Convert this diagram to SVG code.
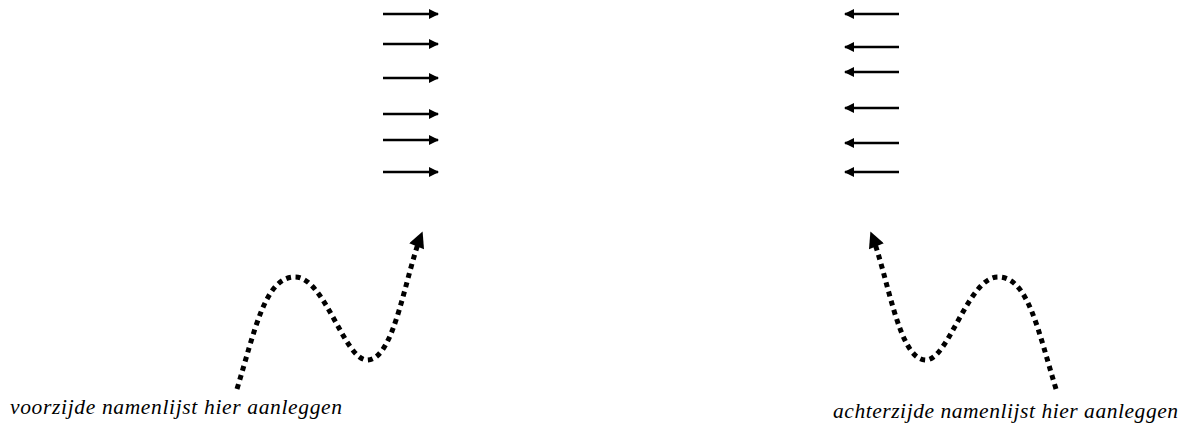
<svg xmlns="http://www.w3.org/2000/svg" width="1193" height="434" viewBox="0 0 1193 434">
<defs>
<marker id="ah" viewBox="0 0 10 10" refX="9" refY="5" markerWidth="4.4" markerHeight="4" orient="auto" markerUnits="strokeWidth">
<path d="M0,0 L10,5 L0,10 Z" fill="#000"/>
</marker>
<marker id="ahd" viewBox="0 0 10 10" refX="9" refY="5" markerWidth="3.4" markerHeight="3.2" orient="auto" markerUnits="strokeWidth">
<path d="M0,0 L10,5 L0,10 Z" fill="#000"/>
</marker>
</defs>
<style>
.a{stroke:#000;stroke-width:2.5;fill:none;marker-end:url(#ah)}
.d{stroke:#000;stroke-width:5;stroke-dasharray:5 4.5;fill:none;marker-end:url(#ahd)}
.t{font-family:"Liberation Serif",serif;font-style:italic;font-size:21.5px;fill:#000}
</style>
<rect width="1193" height="434" fill="#fff"/>
<g id="connectors">
<line class="a" x1="383" y1="14" x2="438" y2="14"/>
<line class="a" x1="383" y1="44" x2="438" y2="44"/>
<line class="a" x1="383" y1="78" x2="438" y2="78"/>
<line class="a" x1="383" y1="114" x2="438" y2="114"/>
<line class="a" x1="383" y1="140" x2="438" y2="140"/>
<line class="a" x1="383" y1="172" x2="438" y2="172"/>
<line class="a" x1="899" y1="14" x2="845" y2="14"/>
<line class="a" x1="899" y1="47" x2="845" y2="47"/>
<line class="a" x1="899" y1="72" x2="845" y2="72"/>
<line class="a" x1="899" y1="108" x2="845" y2="108"/>
<line class="a" x1="899" y1="143" x2="845" y2="143"/>
<line class="a" x1="899" y1="172" x2="845" y2="172"/>
<path class="d" d="M237,389 C255,330 265,277 295,277 C325,277 345,362 368,360 C395,358 405,275 422,233"/>
<path class="d" d="M1056,389 C1038,330 1028,277 998,277 C968,277 948,362 925,360 C898,358 888,275 871,233"/>
</g>
<g id="label-left"><text class="t" x="10" y="414" textLength="332" lengthAdjust="spacing">voorzijde namenlijst hier aanleggen</text></g>
<g id="label-right"><text class="t" x="833" y="418" textLength="345" lengthAdjust="spacing">achterzijde namenlijst hier aanleggen</text></g>
</svg>
